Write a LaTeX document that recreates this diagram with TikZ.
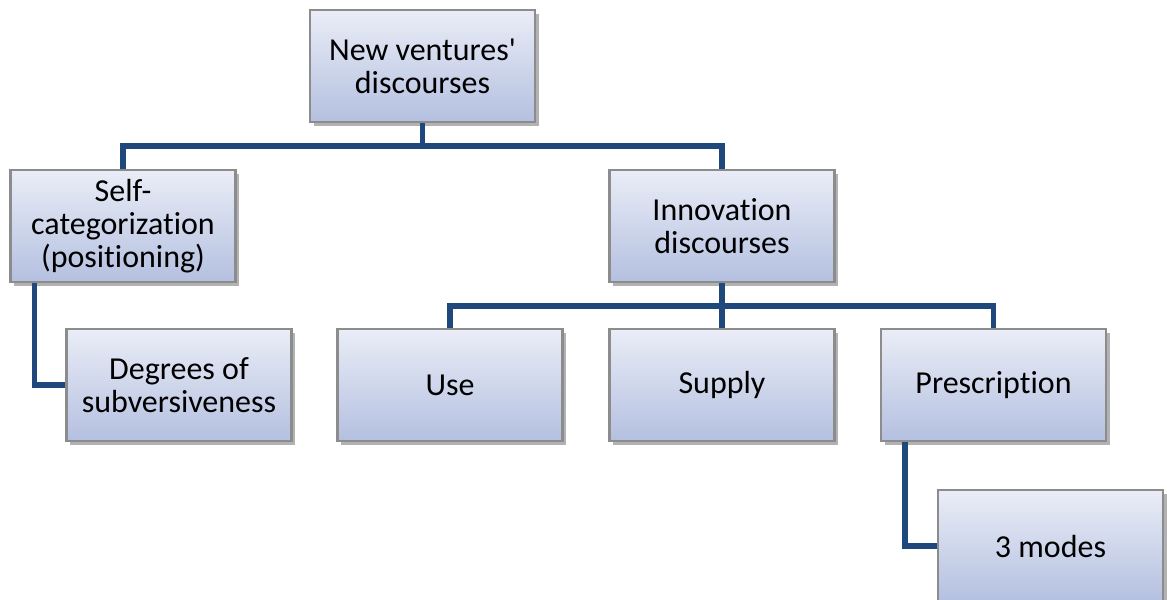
\documentclass[tikz,border=0pt]{standalone}
\usepackage{fontspec}
\setmainfont{Carlito}[Ligatures=CommonOff]
\usepackage{tikz}
\usetikzlibrary{positioning}
\usetikzlibrary{shadows}

\definecolor{linkblue}{RGB}{31,73,125}
\definecolor{boxtop}{RGB}{234,237,247}
\definecolor{boxbot}{RGB}{180,192,224}
\definecolor{boxedge}{RGB}{140,140,140}

\tikzset{
  card/.style={draw=boxedge,line width=0.6pt,top color=boxtop,bottom color=boxbot,
    minimum width=2.25cm,minimum height=1.12cm,align=center,inner sep=1pt,
    font=\fontsize{9.1}{9.4}\selectfont,
    drop shadow={shadow xshift=0.035cm,shadow yshift=-0.035cm,opacity=0.3,fill=black}},
  link/.style={draw=linkblue,line width=1.6pt}
}

\begin{document}
\begin{tikzpicture}
\useasboundingbox (0,0) rectangle (11.67,5.99);

\node[card] (top) at (4.225,5.33) {New ventures\textquotesingle\\discourses};
\node[card] (self) at (1.23,3.73) {Self-\\categorization\\(positioning)};
\node[card] (innov) at (7.22,3.73) {Innovation\\discourses};

\node[card] (deg) at (1.79,2.14) {Degrees of\\subversiveness};
\node[card] (use) at (4.50,2.14) {Use};
\node[card] (supply) at (7.22,2.14) {Supply};
\node[card] (presc) at (9.935,2.14) {Prescription};
\node[card] (modes) at (10.505,0.53) {3 modes};

% first level
\draw[link] (top.south) -- ++(0,-0.23) -| (self.north);
\draw[link] (top.south) -- ++(0,-0.23) -| (innov.north);

% second level
\draw[link] (innov.south) -- ++(0,-0.23) -| (use.north);
\draw[link] (innov.south) -- (supply.north);
\draw[link] (innov.south) -- ++(0,-0.23) -| (presc.north);

% side branches
\draw[link] ([xshift=0.25cm]self.south west) |- (deg.west);
\draw[link] ([xshift=0.25cm]presc.south west) |- (modes.west);

\end{tikzpicture}
\end{document}
